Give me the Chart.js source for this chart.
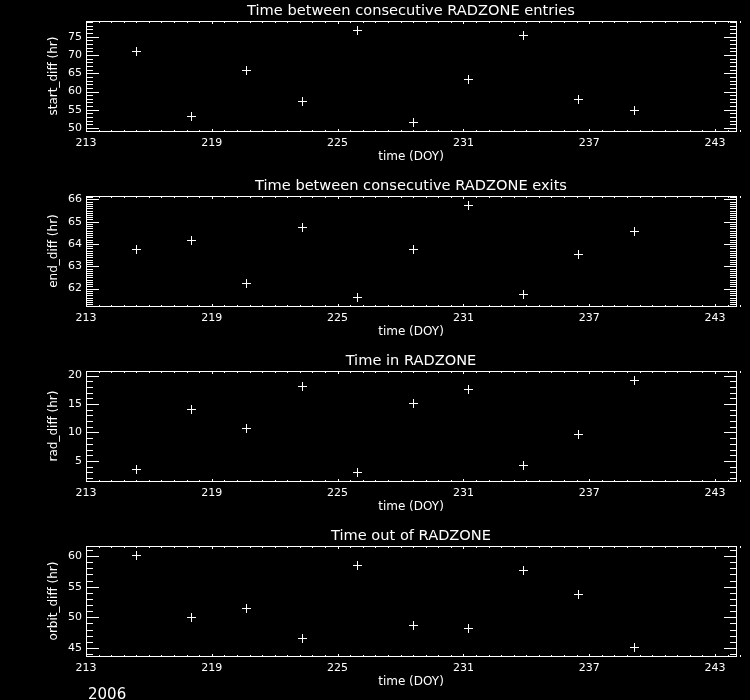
<!DOCTYPE html>
<html>
<head>
<meta charset="utf-8">
<script src="https://cdn.jsdelivr.net/npm/chart.js@4/dist/chart.umd.min.js"></script>
<style>
  html, body { margin: 0; padding: 0; background: #000; }
  #wrap { position: relative; width: 750px; height: 700px; background: #000; overflow: hidden; }
  canvas { position: absolute; left: 0; display: block; }
</style>
</head>
<body>
<div id="wrap">
  <canvas id="c0" width="750" height="175" style="top:0px"></canvas>
  <canvas id="c1" width="750" height="175" style="top:175px"></canvas>
  <canvas id="c2" width="750" height="175" style="top:350px"></canvas>
  <canvas id="c3" width="750" height="175" style="top:525px"></canvas>
</div>
<script>
// ---- data ----
const days       = [215.40, 218.02, 220.67, 223.31, 225.94, 228.61, 231.23, 233.85, 236.50, 239.14];
const startDiff  = [70.9, 53.3, 65.7, 57.2, 76.6, 51.4, 63.2, 75.2, 57.8, 54.8];
const endDiff    = [63.77, 64.17, 62.23, 64.72, 61.59, 63.77, 65.74, 61.73, 63.54, 64.54];
const radDiff    = [3.53, 14.06, 10.76, 18.0, 3.0, 15.06, 17.47, 4.24, 9.7, 19.18];
const orbitDiff  = [60.1, 49.9, 51.5, 46.6, 58.5, 48.6, 48.2, 57.6, 53.8, 45.1];

const xTicks     = [213, 219, 225, 231, 237, 243];
const yTicksP1   = [50, 55, 60, 65, 70, 75];
const yTicksP2   = [62, 63, 64, 65, 66];
const yTicksP3   = [5, 10, 15, 20];
const yTicksP4   = [45, 50, 55, 60];

const titles  = ["Time between consecutive RADZONE entries",
                 "Time between consecutive RADZONE exits",
                 "Time in RADZONE",
                 "Time out of RADZONE"];
const yTitles = ["start_diff (hr)", "end_diff (hr)", "rad_diff (hr)", "orbit_diff (hr)"];
const xTitle  = "time (DOY)";
const yearLabel = "2006";

const panels = [
  { values: startDiff, yTicks: yTicksP1, min: 49.2,  max: 79.3,  minor: 1 },
  { values: endDiff,   yTicks: yTicksP2, min: 61.22, max: 66.15, minor: 0.1 },
  { values: radDiff,   yTicks: yTicksP3, min: 1.47,  max: 20.8,  minor: 1 },
  { values: orbitDiff, yTicks: yTicksP4, min: 43.69, max: 61.64, minor: 1 }
];
const xMin = 213, xMax = 244, xMinorStep = 0.6;

const FONT = "'DejaVu Sans', 'Liberation Sans', sans-serif";

// crisp 9x9 "+" marker used as the point style
const plusMarker = document.createElement('canvas');
plusMarker.width = 9; plusMarker.height = 9;
(function () {
  const c = plusMarker.getContext('2d');
  c.fillStyle = '#fff';
  c.fillRect(4, 0, 1, 9);
  c.fillRect(0, 4, 9, 1);
})();

// IDL-style box with inward ticks on all four sides, plus the panel title
const idlBox = {
  id: 'idlBox',
  beforeDatasetsDraw(chart) {
    chart.ctx.save();
    chart.ctx.imageSmoothingEnabled = false;
  },
  afterDatasetsDraw(chart) {
    chart.ctx.restore();
  },
  afterDraw(chart, args, opts) {
    const ctx = chart.ctx, a = chart.chartArea;
    const xs = chart.scales.x, ys = chart.scales.y;
    const L = Math.round(a.left), R = Math.round(a.right), T = Math.round(a.top), B = Math.round(a.bottom);
    ctx.save();
    ctx.strokeStyle = '#fff';
    ctx.lineWidth = 1;
    ctx.strokeRect(L + 0.5, T + 0.5, R - L, B - T);
    ctx.beginPath();
    // x minor ticks
    const nx = Math.round((xMax - xMin) / xMinorStep);
    for (let i = 0; i <= nx; i++) {
      const v = xMin + i * xMinorStep;
      const px = Math.round(xs.getPixelForValue(v)) + 0.5;
      ctx.moveTo(px, B + 1); ctx.lineTo(px, B - 1);
      ctx.moveTo(px, T);     ctx.lineTo(px, T + 2);
    }
    // x major ticks
    xTicks.forEach(v => {
      const px = Math.round(xs.getPixelForValue(v)) + 0.5;
      ctx.moveTo(px, B + 1); ctx.lineTo(px, B - 2);
      ctx.moveTo(px, T);     ctx.lineTo(px, T + 3);
    });
    // y minor ticks
    const st = opts.minor;
    const k0 = Math.ceil(ys.min / st - 1e-6), k1 = Math.floor(ys.max / st + 1e-6);
    for (let k = k0; k <= k1; k++) {
      const py = Math.round(ys.getPixelForValue(k * st)) + 0.5;
      ctx.moveTo(L, py);     ctx.lineTo(L + 7, py);
      ctx.moveTo(R + 1, py); ctx.lineTo(R - 6, py);
    }
    // y major ticks
    opts.yTicks.forEach(v => {
      const py = Math.round(ys.getPixelForValue(v)) + 0.5;
      ctx.moveTo(L, py);     ctx.lineTo(L + 13, py);
      ctx.moveTo(R + 1, py); ctx.lineTo(R - 12, py);
    });
    ctx.stroke();
    // title
    ctx.fillStyle = '#fff';
    ctx.font = '14.6px ' + FONT;
    ctx.textAlign = 'center';
    ctx.textBaseline = 'alphabetic';
    ctx.fillText(opts.title, (L + R) / 2, 15);
    if (opts.year) {
      ctx.font = '15px ' + FONT;
      ctx.textAlign = 'left';
      ctx.fillText(opts.year, 88, 174);
    }
    ctx.restore();
  }
};

const bgPlugin = {
  id: 'bg',
  beforeDraw(chart) {
    const ctx = chart.ctx;
    ctx.save();
    ctx.fillStyle = '#000';
    ctx.fillRect(0, 0, chart.width, chart.height);
    ctx.restore();
  }
};

panels.forEach((p, i) => {
  new Chart(document.getElementById('c' + i), {
    type: 'scatter',
    data: {
      datasets: [{
        data: days.map((d, j) => ({ x: d, y: p.values[j] })),
        pointStyle: plusMarker,
        pointRadius: 4.5,
        pointHoverRadius: 4.5,
        borderColor: '#fff',
        backgroundColor: '#fff',
        borderWidth: 1,
        showLine: false
      }]
    },
    options: {
      responsive: false,
      animation: false,
      devicePixelRatio: 1,
      events: [],
      layout: { padding: { top: 21, right: 14, left: 0, bottom: 0 } },
      plugins: {
        legend: { display: false },
        tooltip: { enabled: false },
        title: { display: false },
        idlBox: { title: titles[i], yTicks: p.yTicks, minor: p.minor, year: i === 3 ? yearLabel : null }
      },
      scales: {
        x: {
          type: 'linear',
          min: xMin, max: xMax,
          afterBuildTicks: s => { s.ticks = xTicks.map(v => ({ value: v })); },
          afterFit: s => { s.height = 44; },
          grid: { display: false, drawTicks: false },
          border: { display: false },
          ticks: { color: '#fff', font: { family: FONT, size: 11 }, padding: 6, maxRotation: 0, autoSkip: false },
          title: { display: true, text: xTitle, color: '#fff', font: { family: FONT, size: 12 }, padding: { top: 0, bottom: 11 } }
        },
        y: {
          type: 'linear',
          min: p.min, max: p.max,
          afterBuildTicks: s => { s.ticks = p.yTicks.map(v => ({ value: v })); },
          afterFit: s => { s.width = 86; },
          grid: { display: false, drawTicks: false },
          border: { display: false },
          ticks: { color: '#fff', font: { family: FONT, size: 11 }, padding: 4, autoSkip: false },
          title: { display: true, text: yTitles[i], color: '#fff', font: { family: FONT, size: 12 }, padding: { top: 47, bottom: 0 } }
        }
      }
    },
    plugins: [bgPlugin, idlBox]
  });
});
</script>
</body>
</html>
